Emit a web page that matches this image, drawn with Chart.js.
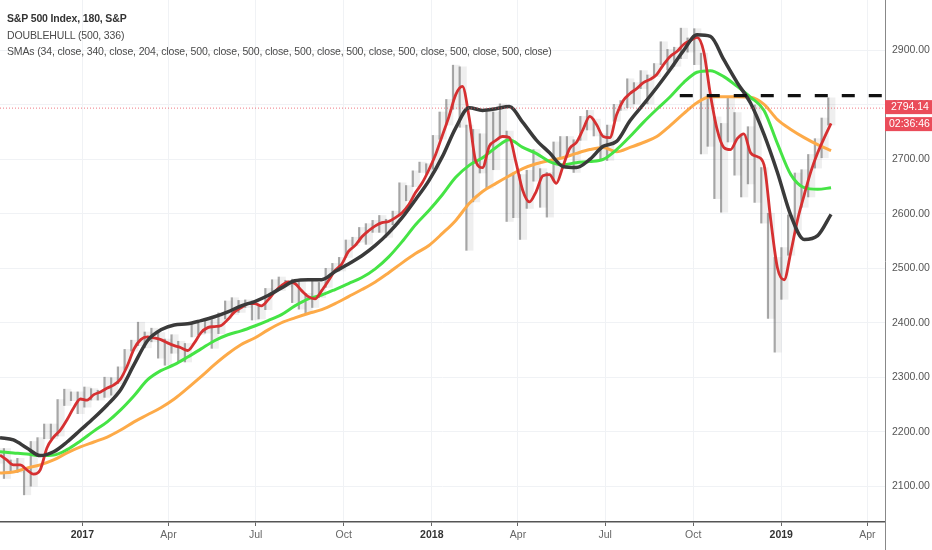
<!DOCTYPE html>
<html><head><meta charset="utf-8">
<script src="https://cdn.jsdelivr.net/npm/chart.js@4.4.1/dist/chart.umd.min.js"></script>
<style>
html,body{margin:0;padding:0;background:#fff;}
#wrap{position:relative;width:932px;height:550px;overflow:hidden;}
#hdr{position:absolute;left:7px;top:10px;font-family:'Liberation Sans',Arial,sans-serif;font-size:10.5px;letter-spacing:-0.15px;color:#4a4a4a;line-height:16.5px;pointer-events:none;white-space:nowrap;}
#hdr .t{font-weight:bold;color:#333;}
</style></head><body>
<div id="wrap"><canvas id="c"></canvas>
<div id="hdr"><div class="t">S&amp;P 500 Index, 180, S&amp;P</div><div>DOUBLEHULL (500, 336)</div><div>SMAs (34, close, 340, close, 204, close, 500, close, 500, close, 500, close, 500, close, 500, close, 500, close, 500, close)</div></div>
</div>
<script>
// ---- time axis (weeks since 2016-10-07) ----
const START = Date.UTC(2016, 9, 7);
const WEEK = 7 * 864e5;
const toWeek = s => (Date.parse(s) - START) / WEEK;

const tickDates = ['2017-01-01','2017-04-01','2017-07-01','2017-10-01','2018-01-01','2018-04-01','2018-07-01','2018-10-01','2019-01-01','2019-04-01'];
const tickLabels = ['2017','Apr','Jul','Oct','2018','Apr','Jul','Oct','2019','Apr'];
const yTicks = [2100,2200,2300,2400,2500,2600,2700,2800,2900];

// ---- weekly price range (week ending Fridays from 2016-10-07) ----
const priceHigh = [2169,2169,2148,2151,2131,2182,2189,2214,2214,2259,2278,2273,2273,
 2282,2279,2276,2300,2299,2319,2351,2368,2401,2383,2390,2382,2370,2378,2366,2362,2398,2399,2404,2406,2418,2440,2446,2441,2442,2440,2434,2463,2479,2484,2478,2480,2474,2454,2477,2474,2500,2509,2520,2552,2557,2575,2582,2588,2597,2590,2605,2657,2652,2679,2695,2692,
 2744,2787,2810,2873,2870,2763,2755,2747,2790,2787,2802,2752,2675,2672,2680,2718,2683,2676,2732,2742,2742,2736,2779,2790,2774,2747,2763,2801,2808,2848,2841,2863,2855,2876,2916,2902,2906,2941,2923,2940,2895,2817,2778,2766,2815,2786,2746,2760,2800,2685,2601,2520,
 2538,2598,2675,2681,2709,2738,2776,2813];
const priceLow = [2142,2114,2126,2125,2084,2100,2156,2187,2187,2192,2248,2257,2233,
 2245,2258,2258,2263,2267,2288,2313,2348,2358,2354,2365,2335,2322,2344,2328,2328,2374,2378,2381,2353,2380,2407,2415,2419,2428,2405,2407,2424,2458,2459,2466,2437,2425,2417,2428,2446,2465,2494,2495,2520,2541,2548,2544,2566,2566,2557,2580,2597,2624,2650,2676,2673,
 2682,2737,2763,2792,2759,2533,2622,2675,2647,2681,2741,2586,2593,2553,2610,2660,2612,2594,2661,2701,2707,2676,2735,2754,2743,2698,2698,2770,2790,2795,2802,2830,2802,2852,2874,2864,2871,2885,2897,2874,2710,2724,2628,2603,2732,2671,2631,2655,2621,2583,2408,2346,
 2443,2524,2570,2612,2631,2684,2703,2763];

// ---- SMA 34 (red), weekly samples ----
const sma34 = [2157,2148,2139,2139,2130,2122,2130,2170,2190,2203,
 2222,2244,2260,2258,2268,2273,2280,2286,2297,2321,
 2352,2369,2374,2372,2369,2363,2358,2354,2349,2363,
 2382,2391,2393,2395,2406,2420,2428,2435,2435,2431,
 2442,2457,2468,2475,2472,2459,2448,2444,2459,2477,
 2496,2508,2531,2542,2558,2569,2578,2584,2586,2593,
 2602,2617,2639,2657,2681,2709,2744,2779,2819,2834,
 2777,2696,2685,2724,2735,2742,2740,2694,2643,2622,
 2641,2670,2672,2656,2687,2720,2731,2755,2779,2764,
 2742,2740,2782,2808,2821,2830,2841,2847,2856,2874,
 2889,2898,2911,2918,2924,2898,2819,2755,2722,2718,
 2738,2747,2712,2705,2690,2589,2501,2479,2530,2589,
 2635,2678,2712,2740,2766];

// ---- slower averages, samples every 2 weeks ----
const doubleHull = [2189,2185,2170,2156,2163,2181,2203,2225,2249,2277,2323,2367,2387,2396,2398,2404,2411,2420,2431,2439,2450,2464,2477,2479,2479,2494,2508,2523,2542,2565,2593,2626,2661,2705,2758,2795,2790,2793,2797,2768,2736,2712,2687,2685,2700,2724,2733,2771,2801,2832,2865,2900,2929,2926,2883,2841,2803,2746,2676,2597,2553,2560,2599];
const sma340 = [2163,2161,2159,2156,2157,2167,2183,2201,2218,2240,2266,2295,2312,2323,2337,2352,2367,2378,2385,2394,2404,2415,2431,2444,2451,2461,2472,2483,2499,2521,2549,2580,2606,2635,2667,2689,2703,2722,2736,2722,2711,2696,2690,2694,2696,2700,2718,2742,2768,2792,2815,2841,2860,2863,2852,2834,2814,2790,2729,2672,2648,2645,2648];
const sma500 = [2124,2126,2133,2139,2148,2161,2172,2181,2190,2203,2218,2231,2244,2260,2280,2301,2323,2343,2360,2372,2387,2400,2409,2417,2424,2435,2448,2461,2475,2492,2510,2527,2542,2564,2588,2619,2641,2656,2670,2683,2692,2698,2703,2711,2718,2722,2714,2722,2731,2742,2762,2784,2804,2815,2815,2815,2814,2801,2773,2755,2740,2727,2716];

const resistance = 2817;
const resistanceFrom = '2018-09-17';
const lastPrice = 2794.14;
const lastTime = '02:36:46';

// ---- build ----
const weekPos = priceHigh.map((_, i) => i - 0.3);
const redPos = sma34.map((_, i) => i);
const slowPos = doubleHull.map((_, k) => 2 * k);
const X_MIN = 0, X_MAX = 132.05, Y_MIN = 2034.1, Y_MAX = 2992.7;
const FONT = "'Liberation Sans', Arial, sans-serif";
const tickPos = tickDates.map(toWeek);
const isYear = i => /^\d{4}$/.test(tickLabels[i]);

const line = (pos, vals, color, w, order) => ({
  type: 'line', data: pos.map((x, i) => ({x, y: vals[i]})),
  borderColor: color, borderWidth: w, pointRadius: 0, fill: false,
  cubicInterpolationMode: 'monotone', order
});
const rangeBars = (thick, color, order) => ({
  type: 'bar', data: weekPos.map((x, i) => ({x, y: [priceLow[i], priceHigh[i]]})),
  backgroundColor: color, barThickness: thick, order
});

const priceTag = {
  id: 'priceTag',
  afterDraw(chart) {
    const {ctx, chartArea, scales: {y}} = chart;
    const py = y.getPixelForValue(lastPrice);
    ctx.save();
    ctx.strokeStyle = '#888'; ctx.lineWidth = 1;
    ctx.beginPath(); ctx.moveTo(chartArea.right + 0.5, chartArea.bottom); ctx.lineTo(chartArea.right + 0.5, chart.height); ctx.stroke();
    ctx.fillStyle = '#ea4c5a';
    ctx.fillRect(chartArea.right, py - 8, 48, 14);
    ctx.fillRect(chartArea.right, py + 9, 48, 14);
    ctx.fillStyle = '#fff'; ctx.font = '10.5px ' + FONT; ctx.textBaseline = 'middle'; ctx.textAlign = 'left';
    ctx.fillText(lastPrice.toFixed(2), chartArea.right + 6, py - 1);
    ctx.fillText(lastTime, chartArea.right + 4, py + 16);
    ctx.restore();
  }
};

new Chart(document.getElementById('c'), {
  type: 'bar',
  data: {
    datasets: [
      { type: 'line', data: [{x: toWeek(resistanceFrom), y: resistance}, {x: X_MAX, y: resistance}],
        borderColor: '#111', borderWidth: 3.2, borderDash: [13, 14], pointRadius: 0, order: 0 },
      { type: 'line', data: [{x: X_MIN, y: lastPrice}, {x: X_MAX, y: lastPrice}],
        borderColor: 'rgba(234,76,90,0.75)', borderWidth: 1, borderDash: [1, 2], pointRadius: 0, order: 1 },
      line(slowPos, doubleHull, '#3a3a3a', 3.5, 2),
      line(redPos, sma34, '#d63031', 2.8, 3),
      line(slowPos, sma340, '#45e445', 3, 4),
      line(slowPos, sma500, '#fdaa48', 3, 5),
      rangeBars(1.5, 'rgba(95,95,95,0.55)', 10),
      rangeBars(6, 'rgba(140,140,140,0.14)', 11)
    ]
  },
  options: {
    responsive: true, maintainAspectRatio: false, animation: false,
    layout: {padding: 0},
    plugins: {legend: {display: false}, tooltip: {enabled: false}},
    scales: {
      x: {
        type: 'linear', min: X_MIN, max: X_MAX, offset: false,
        afterBuildTicks: s => { s.ticks = tickPos.map(v => ({value: v})); },
        afterFit: s => { s.height = 28; s.paddingLeft = 0; s.paddingRight = 0; },
        grid: {offset: false, color: '#f0f2f5', tickColor: '#666', tickLength: 4},
        border: {color: '#555', width: 1.5},
        ticks: {
          autoSkip: false, maxRotation: 0, padding: 3,
          callback: (v, i) => tickLabels[i],
          font: ctx => ({family: FONT, size: 10.5, weight: isYear(ctx.index) ? 'bold' : 'normal'}),
          color: ctx => isYear(ctx.index) ? '#333' : '#666'
        }
      },
      y: {
        type: 'linear', position: 'right', min: Y_MIN, max: Y_MAX,
        afterBuildTicks: s => { s.ticks = yTicks.map(v => ({value: v})); },
        afterFit: s => { s.width = 47; s.paddingTop = 0; s.paddingBottom = 0; },
        grid: {color: '#f0f2f5', tickColor: 'rgba(0,0,0,0)', tickLength: 3},
        border: {color: '#888', width: 1},
        ticks: {padding: 4, color: '#555', font: {family: FONT, size: 10.5}, callback: v => v.toFixed(2)}
      }
    }
  },
  plugins: [priceTag]
});
</script>
</body></html>
